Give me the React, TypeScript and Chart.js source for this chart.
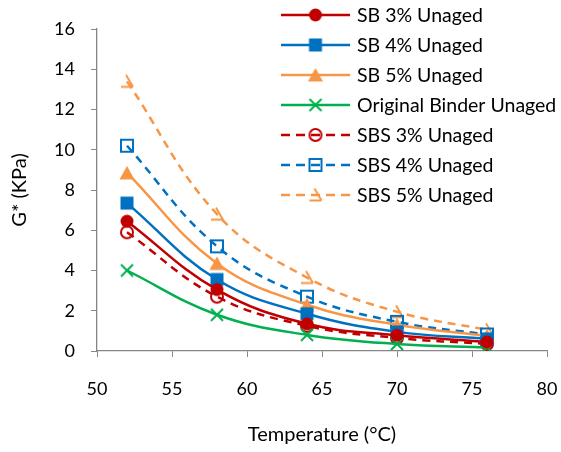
import React, { useEffect, useRef } from "react";
import { Chart, registerables } from "chart.js";

Chart.register(...registerables);

// ---- data ----
const temperatures = [52, 58, 64, 70, 76];
const sb3 = [6.45, 3.05, 1.35, 0.78, 0.45];
const sb4 = [7.35, 3.55, 1.85, 0.95, 0.6];
const sb5 = [8.85, 4.35, 2.3, 1.3, 0.75];
const originalBinder = [4.0, 1.8, 0.8, 0.35, 0.18];
const sbs3 = [5.9, 2.7, 1.25, 0.65, 0.35];
const sbs4 = [10.2, 5.2, 2.7, 1.45, 0.82];
const sbs5 = [13.4, 6.8, 3.65, 1.95, 1.05];
const seriesNames = [
  "SB 3% Unaged",
  "SB 4% Unaged",
  "SB 5% Unaged",
  "Original Binder Unaged",
  "SBS 3% Unaged",
  "SBS 4% Unaged",
  "SBS 5% Unaged",
];
const seriesValues = [sb3, sb4, sb5, originalBinder, sbs3, sbs4, sbs5];
const xTickValues = [50, 55, 60, 65, 70, 75, 80];
const yTickValues = [0, 2, 4, 6, 8, 10, 12, 14, 16];
const xTitle = "Temperature (°C)";
const yTitle = "G* (KPa)";

// ---- styles ----
const RED = "#C00000";
const BLUE = "#0070C0";
const ORANGE = "#F79646";
const GREEN = "#00B050";
const seriesColors = [RED, BLUE, ORANGE, GREEN, RED, BLUE, ORANGE];
const seriesDashed = [false, false, false, false, true, true, true];
const seriesMarkers = ["circle", "square", "triangle", "x", "openCircle", "openSquare", "hook"];
const FONT = "Lato, 'Open Sans', sans-serif";
const AXIS_GRAY = "#868686";

function makeMarker(kind: string, color: string): HTMLCanvasElement {
  const c = document.createElement("canvas");
  c.width = 20;
  c.height = 20;
  const g = c.getContext("2d")!;
  g.fillStyle = color;
  g.strokeStyle = color;
  g.lineWidth = 2;
  g.lineCap = "butt";
  g.beginPath();
  switch (kind) {
    case "circle":
      g.arc(10, 10, 6.5, 0, Math.PI * 2);
      g.fill();
      break;
    case "square":
      g.rect(3.5, 3.5, 13, 13);
      g.fill();
      break;
    case "triangle":
      g.moveTo(10, 3);
      g.lineTo(17.5, 16.5);
      g.lineTo(2.5, 16.5);
      g.closePath();
      g.fill();
      break;
    case "x":
      g.moveTo(4, 4);
      g.lineTo(16, 16);
      g.moveTo(16, 4);
      g.lineTo(4, 16);
      g.stroke();
      break;
    case "openCircle":
      g.arc(10, 10, 6, 0, Math.PI * 2);
      g.stroke();
      break;
    case "openSquare":
      g.rect(4, 4, 12, 12);
      g.stroke();
      break;
    case "hook":
      g.moveTo(4, 15.5);
      g.lineTo(16, 15.5);
      g.moveTo(9, 3.5);
      g.lineTo(16, 15.5);
      g.stroke();
      break;
  }
  return c;
}

export default function App() {
  const canvasRef = useRef<HTMLCanvasElement | null>(null);

  useEffect(() => {
    document.body.style.margin = "0";
    const canvas = canvasRef.current;
    if (!canvas) return;
    const markers = seriesMarkers.map((m, i) => makeMarker(m, seriesColors[i]));

    const datasets = seriesValues.map((vals, i) => ({
      label: seriesNames[i],
      data: temperatures.map((t, j) => ({ x: t, y: vals[j] })),
      showLine: true,
      borderColor: seriesColors[i],
      backgroundColor: seriesColors[i],
      borderWidth: 2.5,
      borderDash: seriesDashed[i] ? [8, 6] : [],
      tension: 0.4,
      pointStyle: markers[i],
      pointRadius: 7,
      pointHoverRadius: 7,
    }));

    const legendPlugin = {
      id: "customLegend",
      afterDraw(chart: any) {
        const ctx = chart.ctx as CanvasRenderingContext2D;
        ctx.save();
        seriesNames.forEach((name, i) => {
          const y = 15 + i * 30;
          ctx.strokeStyle = seriesColors[i];
          ctx.lineWidth = 2.5;
          ctx.setLineDash(seriesDashed[i] ? [9, 6] : []);
          ctx.beginPath();
          ctx.moveTo(281, y);
          ctx.lineTo(350, y);
          ctx.stroke();
          ctx.setLineDash([]);
          const m = markers[i];
          ctx.drawImage(m, 315.5 - m.width / 2, y - m.height / 2);
          ctx.fillStyle = "#000000";
          ctx.font = `19.5px ${FONT}`;
          ctx.textBaseline = "middle";
          ctx.textAlign = "left";
          ctx.fillText(name, 357, y + 1);
        });
        ctx.restore();
      },
    };

    const chart = new Chart(canvas, {
      type: "scatter",
      data: { datasets },
      options: {
        animation: false,
        responsive: false,
        devicePixelRatio: 1,
        layout: { padding: { top: 29, right: 14, left: 0, bottom: 0 } },
        plugins: {
          legend: { display: false },
          tooltip: { enabled: false },
        },
        scales: {
          x: {
            type: "linear",
            min: 50,
            max: 80,
            afterBuildTicks: (s: any) => {
              s.ticks = xTickValues.map((v) => ({ value: v }));
            },
            afterFit: (s: any) => {
              s.height = 101;
              s.paddingLeft = 0;
              s.paddingRight = 0;
            },
            grid: {
              display: true,
              drawOnChartArea: false,
              drawTicks: true,
              tickLength: 6,
              color: AXIS_GRAY,
            },
            border: { display: true, color: AXIS_GRAY, width: 1.3 },
            ticks: {
              color: "#000000",
              font: { family: FONT, size: 18 },
              padding: 21,
              maxRotation: 0,
            },
            title: {
              display: true,
              text: xTitle,
              color: "#000000",
              font: { family: FONT, size: 20 },
              padding: { top: 6, bottom: 5 },
            },
          },
          y: {
            type: "linear",
            min: 0,
            max: 16,
            afterBuildTicks: (s: any) => {
              s.ticks = yTickValues.map((v) => ({ value: v }));
            },
            afterFit: (s: any) => {
              s.width = 97;
              s.paddingTop = 0;
              s.paddingBottom = 0;
            },
            grid: {
              display: true,
              drawOnChartArea: false,
              drawTicks: true,
              tickLength: 6,
              color: AXIS_GRAY,
            },
            border: { display: true, color: AXIS_GRAY, width: 1.3 },
            ticks: {
              color: "#000000",
              font: { family: FONT, size: 18 },
              padding: 16,
            },
            title: {
              display: true,
              text: yTitle,
              color: "#000000",
              font: { family: FONT, size: 20 },
              padding: { top: 8, bottom: 8 },
            },
          },
        },
      },
      plugins: [legendPlugin],
    } as any);

    return () => chart.destroy();
  }, []);

  return (
    <div style={{ width: 561, height: 452, background: "#ffffff" }}>
      <canvas ref={canvasRef} width={561} height={452} style={{ display: "block" }} />
    </div>
  );
}
